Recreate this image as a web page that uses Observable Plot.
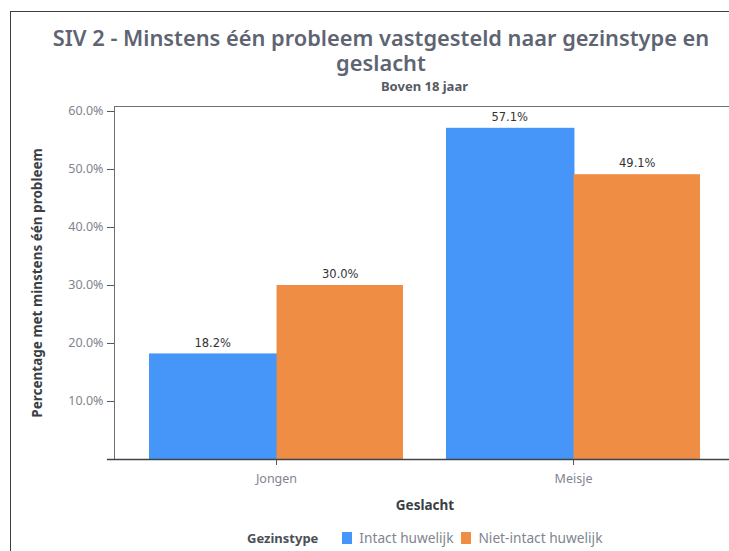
<!DOCTYPE html>
<html>
<head>
<meta charset="utf-8">
<script src="https://cdn.jsdelivr.net/npm/d3@7"></script>
<script src="https://cdn.jsdelivr.net/npm/@observablehq/plot@0.6"></script>
<style>
  html, body { margin: 0; padding: 0; background: #fff; overflow: hidden; }
  #page { position: relative; width: 729px; height: 551px; overflow: hidden; font-family: "Noto Sans", sans-serif; }
  #card { position: absolute; left: 10px; top: 11px; width: 800px; height: 600px; border: 1px solid #3a3f47; box-sizing: border-box; }
  #title { position: absolute; left: 31px; top: 25px; width: 700px; text-align: center; font-size: 21.8px; font-weight: 600; line-height: 25px; color: #5e6472; }
  #subtitle { position: absolute; left: 114px; top: 77px; width: 621px; text-align: center; font-size: 13px; font-weight: 700; color: #555a63; }
  #chart { position: absolute; left: 0; top: 96px; width: 745px; }
  #legend { position: absolute; left: 0; top: 528px; width: 729px; font-size: 13.7px; display: flex; align-items: center; }
  #legend .ttl { font-weight: 700; color: #4a4f58; font-size: 13px; margin-left: 247px; margin-right: 24px; }
  #legend .sw { width: 10px; height: 12px; display: inline-block; margin-right: 7px; }
  #legend .lab { color: #80858f; margin-right: 8px; }
</style>
</head>
<body>
<div id="page">
  <div id="card"></div>
  <div id="title"></div>
  <div id="subtitle"></div>
  <div id="chart"></div>
  <div id="legend"></div>
</div>
<script>
const titleText = "SIV 2 - Minstens één probleem vastgesteld naar gezinstype en geslacht";
const subtitleText = "Boven 18 jaar";
const genders = ["Jongen", "Meisje"];
const types = ["Intact huwelijk", "Niet-intact huwelijk"];
const intact = [18.2, 57.1];
const nietIntact = [30.0, 49.1];
const yTicks = [10, 20, 30, 40, 50, 60];
const colors = ["#4596f8", "#f08d45"];
const yLabel = "Percentage met minstens één probleem";
const xLabel = "Geslacht";
const legendTitle = "Gezinstype";

document.getElementById("title").textContent = titleText;
document.getElementById("subtitle").textContent = subtitleText;

const intactData = genders.map((g, i) => ({geslacht: g, type: types[0], value: intact[i]}));
const nietData = genders.map((g, i) => ({geslacht: g, type: types[1], value: nietIntact[i]}));

const fmt = d => d.toFixed(1) + "%";

const W = 745, H = 455, mL = 114, mR = 10, mT = 10, mB = 92;
const xOpts = {type: "band", domain: genders, paddingInner: 0.144, paddingOuter: 0.114};
// half of a group's band, taken from the library's own band scale
const xs = Plot.scale({x: {...xOpts, range: [mL, W - mR]}});
const half = xs.bandwidth / 2;

const chart = Plot.plot({
  width: W,
  height: H,
  marginTop: mT,
  marginBottom: mB,
  marginLeft: mL,
  marginRight: mR,
  style: {fontFamily: "Noto Sans, sans-serif", fontSize: "12px", color: "#80858f", background: "transparent"},
  x: {...xOpts, axis: null},
  y: {domain: [0, 60.86], axis: null},
  color: {domain: types, range: colors},
  marks: [
    Plot.barY(intactData, {x: "geslacht", y: "value", fill: "type", insetLeft: 0, insetRight: half - 2}),
    Plot.barY(nietData, {x: "geslacht", y: "value", fill: "type", insetLeft: half, insetRight: 0}),
    Plot.text(intactData, {x: "geslacht", y: "value", text: d => fmt(d.value), dx: -half / 2, dy: -11, fill: "#333", fontFamily: "DejaVu Sans, sans-serif", fontSize: 11.5}),
    Plot.text(nietData, {x: "geslacht", y: "value", text: d => fmt(d.value), dx: half / 2, dy: -11, fill: "#333", fontFamily: "DejaVu Sans, sans-serif", fontSize: 11.5}),
    Plot.frame({stroke: "#6b6f76"}),
    Plot.ruleY([0], {stroke: "#3f434a", strokeWidth: 1.6, insetLeft: -7}),
    Plot.axisY(yTicks, {tickFormat: fmt, tickSize: 7, tickPadding: 4, fill: "#80858f", stroke: "#555", fontSize: 12.5, label: null}),
    Plot.axisX({anchor: "bottom", tickSize: 6, tickPadding: 9, fontSize: 12.5, fill: "#80858f", stroke: "#555", label: null}),
    Plot.text([yLabel], {frameAnchor: "left", textAnchor: "middle", lineAnchor: "middle", dx: -77, rotate: -90, fill: "#3a3e45", fontWeight: "bold", fontSize: 13.5}),
    Plot.text([xLabel], {frameAnchor: "bottom", textAnchor: "middle", lineAnchor: "middle", dy: 46, fill: "#3a3e45", fontWeight: "bold", fontSize: 13.5})
  ]
});
document.getElementById("chart").appendChild(chart);

const legend = document.getElementById("legend");
const lt = document.createElement("span");
lt.className = "ttl"; lt.textContent = legendTitle;
legend.appendChild(lt);
types.forEach((t, i) => {
  const sw = document.createElement("span");
  sw.className = "sw"; sw.style.background = colors[i];
  legend.appendChild(sw);
  const lb = document.createElement("span");
  lb.className = "lab"; lb.textContent = t;
  legend.appendChild(lb);
});
</script>
</body>
</html>
